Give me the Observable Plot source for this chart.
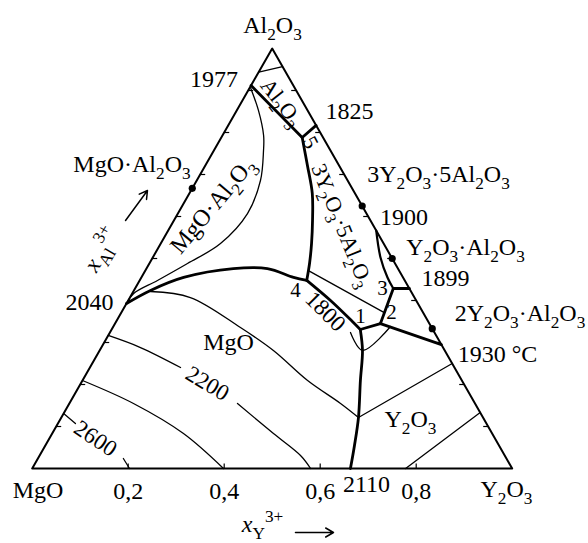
<!DOCTYPE html>
<html><head><meta charset="utf-8">
<script src="https://cdn.jsdelivr.net/npm/d3@7"></script>
<script src="https://cdn.jsdelivr.net/npm/@observablehq/plot@0.6"></script>
<style>body{margin:0;background:#fff} svg{display:block}</style>
</head><body><div id="chart"></div>
<script>
// All points are ternary compositions [xY3+, xAl3+] (xMg2+ = 1 - xY - xAl)
const vertices = [[0,0],[1,0],[0,1]];
const compounds = [[0,0.667],[0.375,0.625],[0.5,0.5],[0.667,0.333]];

// thick univariant boundaries
const b_1977_5   = [[0,0.912],[0.1685,0.788]];
const b_5_1825   = [[0.1685,0.788],[0.183,0.817]];
const b_5_4      = [[0.1685,0.788],[0.213,0.721],[0.256,0.655],[0.289,0.590],[0.314,0.536],[0.333,0.490],[0.348,0.448]];
const b_2040_4   = [[0,0.393],[0.0345,0.424],[0.088,0.455],[0.181,0.476],[0.252,0.476],[0.317,0.455],[0.348,0.448]];
const b_4_1      = [[0.348,0.448],[0.4215,0.400],[0.492,0.350],[0.518,0.331]];
const b_1_2      = [[0.518,0.331],[0.553,0.345]];
const b_2_3      = [[0.553,0.345],[0.538,0.4286]];
const b_3_1899   = [[0.538,0.4286],[0.5714,0.4286]];
const b_2_1930   = [[0.553,0.345],[0.705,0.295]];
const b_1_2110   = [[0.518,0.331],[0.5476,0.281],[0.579,0.2095],[0.619,0.1214],[0.644,0.0548],[0.663,0]];
const b_1900_3   = [[0.4333,0.5667],[0.4744,0.5024],[0.5128,0.4548],[0.538,0.4286]];

// thin isotherms
const iso_Al2O3   = [[0,0.944],[0.043,0.957]];
const iso_spinel  = [[0.003,0.905],[0.0455,0.852],[0.0856,0.793],[0.1034,0.757],[0.1327,0.6857],[0.145,0.607],[0.1244,0.5357],[0.0795,0.488],[0.0372,0.4476],[0.003,0.4167],[0,0.393]];
const iso_MgO_a   = [[0.0358,0.4214],[0.126,0.4071],[0.266,0.3357],[0.362,0.281],[0.469,0.2095],[0.565,0.1548],[0.619,0.1214]];
const iso_Y2O3_a  = [[0.619,0.1214],[0.75,0.25]];
const iso_2200_l  = [[0,0.3167],[0.0816,0.288],[0.1888,0.2405]];
const iso_2200_r  = [[0.3503,0.1548],[0.461,0.0833],[0.5435,0.031],[0.58,0]];
const iso_2400    = [[0,0.2095],[0.1336,0.1548],[0.2735,0.0833],[0.3985,0]];
const iso_2600_l  = [[0,0.131],[0.0366,0.107]];
const iso_2600_r  = [[0.178,0.0238],[0.2027,0]];
const iso_Y2O3_b  = [[0.778,0],[0.8667,0.1333]];
const iso_YAG     = [[0.340,0.471],[0.548,0.371]];
const iso_1800    = [[0.5012,0.3238],[0.5476,0.281],[0.5775,0.338]];

// ticks
const edgeTicks = [0.1,0.2,0.3,0.4,0.5,0.6,0.7,0.8,0.9];
const bottomTicks = [0.2,0.4,0.6,0.8];
const bottomTickLabels = ["0,2","0,4","0,6","0,8"];

// labels: [text, xY, xAl, rotation]
const vertexLabels = [["Al_{2}O_{3}",-0.0268,1.0548,0],["MgO",0.0383,-0.0524,0],["Y_{2}O_{3}",1.013,-0.05,0]];
const tempLabels = [["1977",-0.0843,0.9262,0],["1825",0.236,0.85,0],["1900",0.4758,0.5976,0],["1899",0.6348,0.4524,0],["1930 °C",0.8337,0.2714,0],["2040",-0.0782,0.3952,0],["2110",0.7155,-0.0381,0]];
const compoundLabels = [["MgO·Al_{2}O_{3}",-0.154,0.7238,0],["3Y_{2}O_{3}·5Al_{2}O_{3}",0.4965,0.7,0],["Y_{2}O_{3}·Al_{2}O_{3}",0.6396,0.5262,0],["2Y_{2}O_{3}·Al_{2}O_{3}",0.8318,0.369,0]];
const fieldLabels = [["MgO",0.259,0.3,0],["Y_{2}O_{3}",0.7297,0.1167,0],["MgO·Al_{2}O_{3}",0.0625,0.6262,-50]];
const bandLabels = [["Al_{2}O_{3}",0.0837,0.8714,52],["3Y_{2}O_{3}·5Al_{2}O_{3}",0.356,0.5786,68]];
const isoLabels = [["2200",0.264,0.2024,31],["2600",0.0962,0.0714,34],["1800",0.4241,0.3738,45]];
const pointLabels = [["1",0.503,0.3619,0],["2",0.5628,0.3714,0],["3",0.5155,0.4286,0],["4",0.3366,0.4238,0],["5",0.1917,0.7762,62]];
const axisTitles = [["~{x}_{Y}^{3+}",0.5465,-0.1333,0],["~{x}_{Al}^{3+}",-0.1163,0.5214,-60]];
const axisArrows = [[[0.6247,-0.1524],[0.7039,-0.1524]],[[-0.1008,0.5905],[-0.0908,0.6619]]];

// ---- helpers ----
const X = p => p[0] + p[1]/2;   // cartesian from ternary
const Y = p => p[1];
const rows = (list) => list.flatMap((pts,i)=>pts.map(p=>({id:i, p})));
const lbl = (list) => list.map(d=>({t:d[0], p:[d[1],d[2]], r:d[3]}));
const TL = 5; // tick length px
const pxX = TL/480, pxY = TL/420;

const thick = [b_1977_5,b_5_1825,b_5_4,b_2040_4,b_4_1,b_1_2,b_2_3,b_3_1899,b_2_1930,b_1_2110];
const medium = [b_1900_3];
const thin = [iso_Al2O3,iso_spinel,iso_MgO_a,iso_Y2O3_a,iso_2200_l,iso_2200_r,iso_2400,iso_2600_l,iso_2600_r,iso_Y2O3_b,iso_YAG,iso_1800];

const textMark = (data, fs) => Plot.text(lbl(data), {x:d=>X(d.p), y:d=>Y(d.p), text:"t", rotate:"r", fontSize:fs, fill:"black"});

const chart = Plot.plot({
  width:588, height:543, margin:0,
  x:{domain:[0,1], range:[31.7,511.7], axis:null},
  y:{domain:[0,1], range:[468,48], axis:null},
  style:{fontFamily:"'Liberation Serif', 'Times New Roman', serif", background:"white", color:"black"},
  marks:[
    Plot.line([...vertices, vertices[0]], {x:X, y:Y, stroke:"black", strokeWidth:2}),
    Plot.link(edgeTicks, {x1:a=>a/2, y1:a=>a, x2:a=>a/2+pxX, y2:a=>a, stroke:"black", strokeWidth:1.2}),
    Plot.link(edgeTicks, {x1:a=>1-a/2, y1:a=>a, x2:a=>1-a/2-pxX, y2:a=>a, stroke:"black", strokeWidth:1.2}),
    Plot.link(bottomTicks, {x1:v=>v, y1:0, x2:v=>v, y2:pxY, stroke:"black", strokeWidth:1.2}),
    Plot.line(rows(thin), {x:d=>X(d.p), y:d=>Y(d.p), z:"id", curve:"catmull-rom", stroke:"black", strokeWidth:1.3}),
    Plot.line(rows(medium), {x:d=>X(d.p), y:d=>Y(d.p), z:"id", curve:"catmull-rom", stroke:"black", strokeWidth:2.2}),
    Plot.line(rows(thick), {x:d=>X(d.p), y:d=>Y(d.p), z:"id", curve:"catmull-rom", stroke:"black", strokeWidth:2.8, strokeLinejoin:"round"}),
    Plot.dot(compounds, {x:X, y:Y, r:3.6, fill:"black"}),
    Plot.arrow(axisArrows, {x1:d=>X(d[0]), y1:d=>Y(d[0]), x2:d=>X(d[1]), y2:d=>Y(d[1]), stroke:"black", strokeWidth:1.5, headLength:9}),
    Plot.text(bottomTicks, {x:v=>v, y:0, dy:23, text:(v,i)=>bottomTickLabels[i], fontSize:24, fill:"black"}),
    textMark(vertexLabels, 24),
    textMark(tempLabels, 24),
    textMark(compoundLabels, 24),
    textMark(fieldLabels, 24),
    textMark(bandLabels, 22),
    textMark(isoLabels, 23),
    textMark(pointLabels, 21),
    textMark(axisTitles, 24)
  ]
});
document.getElementById("chart").append(chart);

// rich text: _{sub} ^{sup} ~{italic}
d3.select(chart).selectAll("text").each(function(){
  const t = this.textContent;
  if(!/[_^~]\{/.test(t)) return;
  const fs = parseFloat(getComputedStyle(this).fontSize) || 24;
  const re = /([_^~])\{([^}]*)\}/g;
  const parts=[]; let last=0, m;
  while((m=re.exec(t))){ if(m.index>last) parts.push(["n",t.slice(last,m.index)]); parts.push([m[1],m[2]]); last=re.lastIndex; }
  if(last<t.length) parts.push(["n",t.slice(last)]);
  this.textContent="";
  let shift=0;
  for(const [k,s] of parts){
    const ts = d3.select(this).append("tspan").text(s);
    const target = k==="_" ? 0.28*fs : k==="^" ? -0.42*fs : 0;
    const dy = target - shift;
    if(dy) ts.attr("dy", dy);
    shift = target;
    if(k==="_"||k==="^") ts.attr("font-size", 0.72*fs);
    if(k==="~") ts.attr("font-style","italic");
  }
});
</script>
</body></html>
